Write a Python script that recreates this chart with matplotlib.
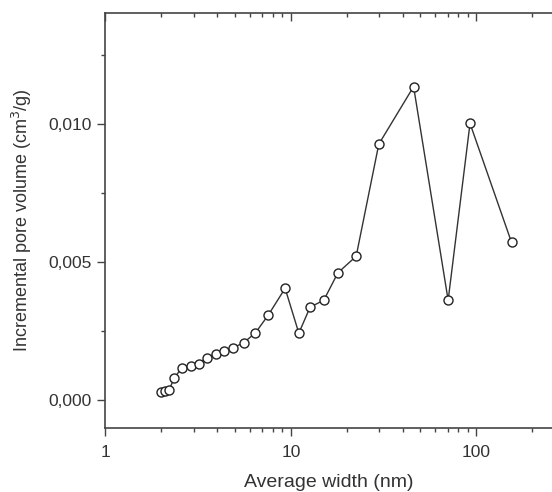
import matplotlib
matplotlib.use("Agg")
import matplotlib.pyplot as plt
from matplotlib.ticker import LogLocator, FixedLocator, FuncFormatter, NullFormatter

width_nm = [1.99, 2.10, 2.20, 2.35, 2.58, 2.88, 3.19, 3.51, 3.93, 4.37, 4.87, 5.56,
            6.44, 7.55, 9.31, 11.04, 12.70, 15.05, 17.93, 22.50, 29.8, 45.9, 70.5,
            92.5, 154.9]
pore_volume = [0.00029, 0.00033, 0.00036, 0.00081, 0.00117, 0.00123, 0.00133, 0.00153,
               0.00168, 0.00178, 0.00190, 0.00208, 0.00244, 0.00308, 0.00405, 0.00243,
               0.00337, 0.00362, 0.00461, 0.00521, 0.00926, 0.01134, 0.00362, 0.01001,
               0.00571]
y_ticks = [0.000, 0.005, 0.010]
y_minor = [0.0025, 0.0075, 0.0125]
x_tick_labels = ["1", "10", "100"]

plt.rcParams['font.family'] = ['Liberation Sans', 'DejaVu Sans']

fig = plt.figure(figsize=(5.52, 4.92), dpi=100)
ax = fig.add_axes([0.191, 0.130, 0.809, 0.8435])

spine_c = '#444444'
txt_c = '#333333'

ax.plot(width_nm, pore_volume, '-', color='#333333', lw=1.0,
        marker='o', markersize=6.5, markerfacecolor='white',
        markeredgecolor='#222222', markeredgewidth=1.0)

ax.set_xscale('log')
ax.set_xlim(1, 256)
ax.set_ylim(-0.001, 0.014)

ax.xaxis.set_major_locator(FixedLocator([1, 10, 100]))
ax.xaxis.set_major_formatter(FuncFormatter(lambda v, p: {1: "1", 10: "10", 100: "100"}.get(int(round(v)), "")))
ax.xaxis.set_minor_locator(LogLocator(base=10, subs=range(2, 10)))
ax.xaxis.set_minor_formatter(NullFormatter())

ax.yaxis.set_major_locator(FixedLocator(y_ticks))
ax.yaxis.set_minor_locator(FixedLocator(y_minor))
ax.yaxis.set_major_formatter(FuncFormatter(lambda v, p: f"{v:.3f}".replace('.', ',')))

ax.spines['right'].set_visible(False)
for s in ['left', 'top', 'bottom']:
    ax.spines[s].set_color(spine_c)
    ax.spines[s].set_linewidth(1.2)

ax.tick_params(axis='x', which='major', direction='out', length=6, width=1, color=spine_c,
               labelsize=12.5, labelcolor=txt_c, pad=6, top=True)
ax.tick_params(axis='x', which='minor', direction='out', length=3, width=1, color=spine_c, top=True)
ax.tick_params(axis='y', which='major', direction='out', length=6, width=1, color=spine_c,
               labelsize=12.5, labelcolor=txt_c, pad=4)
ax.tick_params(axis='y', which='minor', direction='out', length=3, width=1, color=spine_c)
# top ticks inward
ax.tick_params(axis='x', which='both', top=True)
for t in ax.xaxis.get_major_ticks():
    t.tick2line.set_marker(3)  # TICKDOWN-ish
    t.tick2line.set_markersize(6)
for t in ax.xaxis.get_minor_ticks():
    t.tick2line.set_marker(3)
    t.tick2line.set_markersize(3)

ax.set_xlabel("Average width (nm)", fontsize=14, color=txt_c, labelpad=10)
ax.set_ylabel("Incremental pore volume (cm$^3$/g)", fontsize=13, color=txt_c, labelpad=10)

fig.savefig("out.png", dpi=100)
